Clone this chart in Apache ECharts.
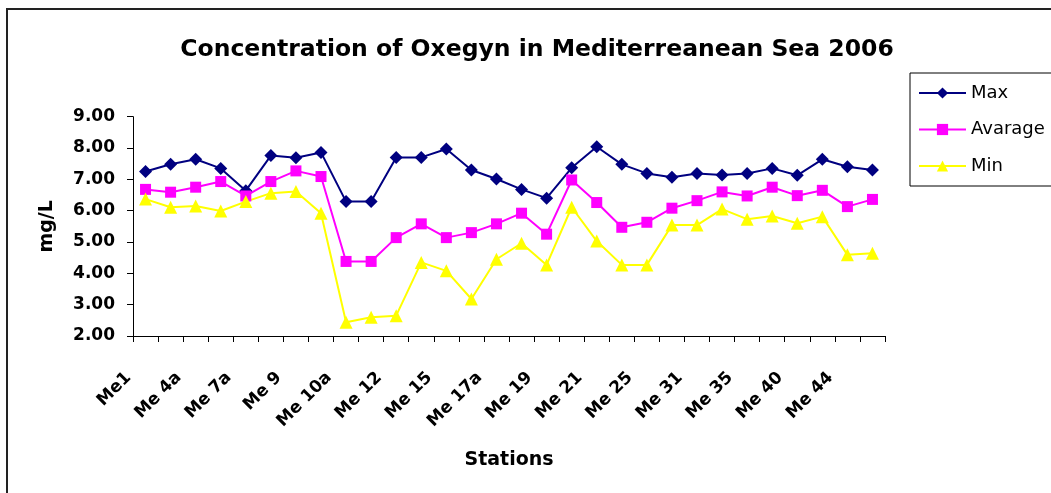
<!DOCTYPE html>
<html>
<head>
<meta charset="utf-8">
<script src="https://cdn.jsdelivr.net/npm/echarts@6/dist/echarts.min.js"></script>
<style>
html,body{margin:0;padding:0;background:#fff;}
#chart{width:1051px;height:493px;}
</style>
</head>
<body>
<div id="chart"></div>
<script>
const stations = ["Me1","Me 3","Me 4a","Me 5","Me 7a","Me 8","Me 9","Me 10","Me 10a","Me 11",
  "Me 12","Me 13","Me 15","Me 16","Me 17a","Me 18","Me 19","Me 20","Me 21","Me 22",
  "Me 25","Me 27","Me 31","Me 33","Me 35","Me 37","Me 40","Me 42","Me 44","Me 46"];
const maxValues = [7.25,7.48,7.64,7.35,6.64,7.76,7.69,7.86,6.29,6.29,
  7.70,7.70,7.97,7.30,7.01,6.68,6.40,7.37,8.04,7.48,
  7.19,7.07,7.19,7.14,7.19,7.35,7.13,7.64,7.40,7.30];
const avgValues = [6.68,6.59,6.75,6.93,6.47,6.93,7.27,7.09,4.38,4.38,
  5.14,5.58,5.14,5.30,5.58,5.92,5.25,6.98,6.26,5.47,
  5.63,6.08,6.32,6.60,6.47,6.75,6.48,6.65,6.13,6.36];
const minValues = [6.37,6.11,6.15,5.99,6.29,6.56,6.61,5.92,2.44,2.60,
  2.65,4.35,4.08,3.18,4.45,4.96,4.27,6.11,5.03,4.27,
  4.27,5.54,5.54,6.05,5.73,5.83,5.60,5.81,4.59,4.64];
const seriesNames = ["Max","Avarage","Min"];
const yTicks = {min: 2, max: 9, interval: 1};

const FONT = "DejaVu Sans";
const chart = echarts.init(document.getElementById('chart'));
chart.setOption({
  animation: false,
  backgroundColor: '#ffffff',
  title: {
    text: 'Concentration of Oxegyn in Mediterreanean Sea 2006',
    left: 532, top: 33, textAlign: 'center',
    textStyle: {fontFamily: FONT, fontWeight: 'bold', fontSize: 23.5, color: '#000'}
  },
  graphic: [{
    type: 'rect', silent: true,
    shape: {x: 7, y: 9, width: 2000, height: 2000},
    style: {fill: 'none', stroke: '#222', lineWidth: 2}
  }],
  legend: {
    orient: 'vertical', left: 910, top: 73,
    data: seriesNames,
    itemWidth: 47, itemHeight: 14, itemGap: 18.5,
    padding: [11, 10, 11, 8],
    borderColor: '#000', borderWidth: 1,
    textStyle: {fontFamily: FONT, fontSize: 18, color: '#000'}
  },
  grid: {left: 133, right: 166, top: 116.7, bottom: 157, containLabel: false},
  xAxis: {
    type: 'category', data: stations, boundaryGap: true,
    name: 'Stations', nameLocation: 'middle', nameGap: 115,
    nameTextStyle: {fontFamily: FONT, fontWeight: 'bold', fontSize: 19, color: '#000'},
    axisLine: {lineStyle: {color: '#000', width: 1}},
    axisTick: {show: true, interval: 0, length: 6, lineStyle: {color: '#000'}},
    axisLabel: {interval: 1, rotate: 45, margin: 22, padding: [0, 24, 0, 0],
      fontFamily: FONT, fontWeight: 'bold', fontSize: 17, color: '#000'},
    splitLine: {show: false}
  },
  yAxis: {
    type: 'value', min: yTicks.min, max: yTicks.max, interval: yTicks.interval,
    name: 'mg/L', nameLocation: 'middle', nameGap: 76, nameRotate: 90,
    nameTextStyle: {fontFamily: FONT, fontWeight: 'bold', fontSize: 19, color: '#000'},
    axisLine: {show: true, lineStyle: {color: '#000', width: 1}},
    axisTick: {show: true, length: 6, lineStyle: {color: '#000'}},
    axisLabel: {margin: 18, formatter: v => v.toFixed(2),
      fontFamily: FONT, fontWeight: 'bold', fontSize: 17, color: '#000'},
    splitLine: {show: false}
  },
  series: [
    {name: seriesNames[0], type: 'line', data: maxValues, symbol: 'diamond', symbolSize: 13,
      lineStyle: {color: '#000080', width: 2}, itemStyle: {color: '#000080'}},
    {name: seriesNames[1], type: 'line', data: avgValues, symbol: 'rect', symbolSize: 11,
      lineStyle: {color: '#FF00FF', width: 2}, itemStyle: {color: '#FF00FF'}},
    {name: seriesNames[2], type: 'line', data: minValues, symbol: 'triangle', symbolSize: 13,
      lineStyle: {color: '#FFFF00', width: 2}, itemStyle: {color: '#FFFF00'}}
  ]
});
</script>
</body>
</html>
